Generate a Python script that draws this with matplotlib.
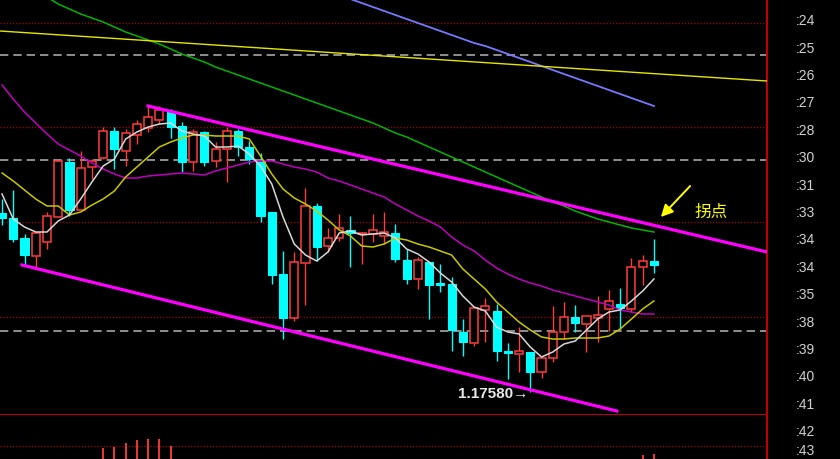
import numpy as np
import matplotlib.pyplot as plt
from matplotlib.patches import Rectangle

plt.rcParams['font.family'] = ['Liberation Sans', 'DejaVu Sans']

# candles (open, high, low, close)
opens = [1.17938, 1.17928, 1.17888, 1.17852, 1.17880, 1.17930, 1.18040, 1.17944, 1.18030, 1.18048,
         1.18102, 1.18062, 1.18094, 1.18108, 1.18124, 1.18142, 1.18112, 1.18040, 1.18100, 1.18042,
         1.18066, 1.18102, 1.18070, 1.18042, 1.17940, 1.17816, 1.17728, 1.17838, 1.17952, 1.17872,
         1.17888, 1.17904, 1.17896, 1.17896, 1.17892, 1.17898, 1.17844, 1.17806, 1.17840, 1.17798,
         1.17796, 1.17700, 1.17678, 1.17744, 1.17742, 1.17662, 1.17656, 1.17660, 1.17620, 1.17648,
         1.17700, 1.17730, 1.17716, 1.17728, 1.17746, 1.17756, 1.17746, 1.17830, 1.17842]
highs = [1.17966, 1.17984, 1.17896, 1.17898, 1.17940, 1.18042, 1.18048, 1.18062, 1.18046, 1.18110,
         1.18110, 1.18106, 1.18124, 1.18152, 1.18152, 1.18146, 1.18120, 1.18106, 1.18102, 1.18080,
         1.18110, 1.18106, 1.18082, 1.18058, 1.17940, 1.17862, 1.17860, 1.17988, 1.17958, 1.17908,
         1.17936, 1.17932, 1.17900, 1.17936, 1.17940, 1.17916, 1.17866, 1.17850, 1.17840, 1.17836,
         1.17810, 1.17726, 1.17750, 1.17768, 1.17756, 1.17678, 1.17710, 1.17660, 1.17652, 1.17752,
         1.17760, 1.17754, 1.17732, 1.17772, 1.17784, 1.17788, 1.17848, 1.17854, 1.17886]
lows = [1.17914, 1.17880, 1.17832, 1.17830, 1.17866, 1.17930, 1.17932, 1.17944, 1.18006, 1.18046,
        1.18026, 1.18032, 1.18076, 1.18100, 1.18116, 1.18088, 1.18020, 1.18022, 1.18032, 1.18030,
        1.18000, 1.18052, 1.18036, 1.17920, 1.17796, 1.17686, 1.17722, 1.17754, 1.17842, 1.17860,
        1.17882, 1.17830, 1.17836, 1.17880, 1.17876, 1.17840, 1.17796, 1.17786, 1.17726, 1.17780,
        1.17662, 1.17652, 1.17672, 1.17680, 1.17642, 1.17606, 1.17620, 1.17580, 1.17608, 1.17640,
        1.17686, 1.17700, 1.17660, 1.17680, 1.17702, 1.17706, 1.17740, 1.17794, 1.17818]
closes = [1.17928, 1.17886, 1.17854, 1.17898, 1.17932, 1.18042, 1.17944, 1.18028, 1.18042, 1.18102,
          1.18066, 1.18098, 1.18116, 1.18130, 1.18144, 1.18110, 1.18040, 1.18100, 1.18040, 1.18066,
          1.18102, 1.18070, 1.18046, 1.17932, 1.17814, 1.17728, 1.17840, 1.17952, 1.17870, 1.17888,
          1.17908, 1.17898, 1.17898, 1.17904, 1.17900, 1.17846, 1.17806, 1.17844, 1.17794, 1.17794,
          1.17704, 1.17680, 1.17748, 1.17752, 1.17662, 1.17658, 1.17662, 1.17620, 1.17648, 1.17700,
          1.17730, 1.17718, 1.17732, 1.17734, 1.17762, 1.17748, 1.17830, 1.17842, 1.17834]

# moving averages, one value per candle
ma_white = [1.17976, 1.17926, 1.17910, 1.17900, 1.17900, 1.17922, 1.17934, 1.17966, 1.18000, 1.18032,
            1.18046, 1.18086, 1.18100, 1.18110, 1.18116, 1.18118, 1.18102, 1.18096, 1.18092, 1.18070,
            1.18070, 1.18072, 1.18056, 1.18032, 1.17996, 1.17930, 1.17876, 1.17854, 1.17842, 1.17860,
            1.17898, 1.17902, 1.17894, 1.17896, 1.17898, 1.17888, 1.17866, 1.17856, 1.17840, 1.17818,
            1.17800, 1.17772, 1.17750, 1.17742, 1.17710, 1.17700, 1.17696, 1.17670, 1.17650, 1.17660,
            1.17676, 1.17682, 1.17704, 1.17726, 1.17740, 1.17744, 1.17762, 1.17782, 1.17806]
ma_olive = [1.18018, 1.18002, 1.17984, 1.17966, 1.17952, 1.17952, 1.17934, 1.17940, 1.17954, 1.17966,
            1.17982, 1.18010, 1.18030, 1.18050, 1.18070, 1.18080, 1.18088, 1.18094, 1.18094, 1.18092,
            1.18092, 1.18092, 1.18086, 1.18052, 1.18016, 1.17986, 1.17968, 1.17956, 1.17942, 1.17924,
            1.17904, 1.17892, 1.17872, 1.17870, 1.17876, 1.17888, 1.17884, 1.17876, 1.17870, 1.17862,
            1.17854, 1.17826, 1.17806, 1.17786, 1.17760, 1.17740, 1.17720, 1.17704, 1.17690, 1.17686,
            1.17686, 1.17688, 1.17688, 1.17688, 1.17692, 1.17706, 1.17726, 1.17746, 1.17762]
ma_purple = [1.18194, 1.18166, 1.18140, 1.18118, 1.18096, 1.18076, 1.18064, 1.18052, 1.18038, 1.18026,
             1.18016, 1.18008, 1.18008, 1.18012, 1.18014, 1.18016, 1.18018, 1.18016, 1.18014, 1.18022,
             1.18028, 1.18034, 1.18040, 1.18042, 1.18042, 1.18036, 1.18030, 1.18026, 1.18020, 1.18008,
             1.18002, 1.17994, 1.17986, 1.17978, 1.17970, 1.17956, 1.17944, 1.17932, 1.17922, 1.17910,
             1.17890, 1.17874, 1.17862, 1.17844, 1.17828, 1.17816, 1.17806, 1.17798, 1.17792, 1.17784,
             1.17778, 1.17772, 1.17766, 1.17760, 1.17754, 1.17744, 1.17740, 1.17736, 1.17736]
green_start = 4
ma_green = [1.18370, 1.18356, 1.18346, 1.18336, 1.18328, 1.18320, 1.18310, 1.18300, 1.18292, 1.18284,
            1.18276, 1.18266, 1.18256, 1.18248, 1.18240, 1.18230, 1.18222, 1.18214, 1.18206, 1.18198,
            1.18190, 1.18182, 1.18174, 1.18166, 1.18158, 1.18150, 1.18142, 1.18134, 1.18126, 1.18118,
            1.18108, 1.18098, 1.18090, 1.18080, 1.18070, 1.18060, 1.18050, 1.18040, 1.18030, 1.18020,
            1.18010, 1.18000, 1.17990, 1.17980, 1.17970, 1.17960, 1.17952, 1.17942, 1.17934, 1.17926,
            1.17920, 1.17914, 1.17908, 1.17904, 1.17900]
blue_start = 31
ma_blue = [1.18366, 1.18358, 1.18350, 1.18342, 1.18334, 1.18326, 1.18318, 1.18310, 1.18302, 1.18294,
           1.18286, 1.18278, 1.18272, 1.18264, 1.18256, 1.18248, 1.18240, 1.18232, 1.18224, 1.18216,
           1.18208, 1.18200, 1.18192, 1.18184, 1.18176, 1.18168, 1.18160, 1.18152]

# drawn lines (x in bars, price)
long_yellow = ([-0.18, 68.06], [1.18302, 1.18202])
chan_upper = ([12.99, 68.06], [1.18152, 1.17860])
chan_lower = ([1.78, 54.7], [1.17834, 1.17542])
red_levels = [1.18318, 1.18110, 1.17920, 1.17730]
gray_levels = [1.18254, 1.18044, 1.17702]

tick_prices = [1.18326, 1.18271, 1.18216, 1.18162, 1.18107, 1.18052, 1.17997, 1.17942,
               1.17888, 1.17833, 1.17778, 1.17723, 1.17668, 1.17614, 1.17559]
tick_labels = [':24', ':25', ':26', ':27', ':28', ':30', ':31', ':33',
               ':34', ':34', ':35', ':38', ':39', ':40', ':41']

# lower indicator panel
hist_x = [9, 10, 11, 12, 13, 14, 15, 57, 58]
hist_v = [11, 12, 16, 19, 20, 20, 13, 4, 5]
low_ticks = [29, 10]
low_labels = [':42', ':43']

RED = '#ff3c3c'
CYAN = '#00ffff'
AXRED = '#c00000'

fig = plt.figure(figsize=(8.4, 4.6), dpi=100, facecolor='black')
ax = fig.add_axes([0, 44 / 460, 767 / 840, 416 / 460])
ax2 = fig.add_axes([0, 0, 767 / 840, 44 / 460])
for a in (ax, ax2):
    a.set_facecolor('black')
    a.set_xlim(-0.18, 68.06)
    a.set_xticks([])
    a.yaxis.tick_right()
    a.tick_params(axis='y', length=0, pad=21, labelsize=10, labelcolor='#d0d0d0')
    a.spines['top'].set_visible(False)
    a.spines['left'].set_visible(False)
    a.spines['right'].set_color(AXRED)
    a.spines['right'].set_linewidth(1.5)
ax.spines['bottom'].set_color(AXRED)
ax.spines['bottom'].set_linewidth(1.5)
ax2.spines['bottom'].set_visible(False)

ax.set_ylim(1.17534, 1.18366)
ax.set_yticks(tick_prices)
ax.set_yticklabels(tick_labels)
ax2.set_ylim(0, 44)
ax2.set_yticks(low_ticks)
ax2.set_yticklabels(low_labels)

for lv in red_levels:
    ax.axhline(lv, color='#a80000', lw=0.9, ls=(0, (1, 1.5)), zorder=1)
for lv in gray_levels:
    ax.axhline(lv, color='#a8a8a8', lw=1.2, ls=(0, (5, 3)), zorder=1)

w = 0.72
for i in range(len(opens)):
    o, h, l, c = opens[i], highs[i], lows[i], closes[i]
    if c >= o:
        ax.vlines(i, l, o, color=RED, lw=1.0, zorder=2)
        ax.vlines(i, c, h, color=RED, lw=1.0, zorder=2)
        ax.add_patch(Rectangle((i - w / 2, o), w, c - o, facecolor='black',
                               edgecolor=RED, lw=1.1, zorder=3))
    else:
        ax.vlines(i, l, h, color=CYAN, lw=1.0, zorder=2)
        ax.add_patch(Rectangle((i - w / 2, c), w, o - c, facecolor=CYAN,
                               edgecolor=CYAN, lw=0.8, zorder=3))

x = np.arange(len(opens))
ax.plot(x, ma_purple, color='#c000c0', lw=1.1, zorder=4)
ax.plot(x, ma_olive, color='#c8c800', lw=1.1, zorder=4)
ax.plot(x, ma_white, color='#d8d8d8', lw=1.1, zorder=4)
ax.plot(x[green_start:], ma_green, color='#00b400', lw=1.1, zorder=4)
ax.plot(x[blue_start:], ma_blue, color='#7878ff', lw=1.3, zorder=4)
ax.plot(*long_yellow, color='#e6e600', lw=1.0, zorder=4)
ax.plot(*chan_upper, color='#ff00ff', lw=2.3, zorder=5)
ax.plot(*chan_lower, color='#ff00ff', lw=2.3, zorder=5)

ax.text(47 - 0.15, 1.17578, '1.17580\u2192', color='#e8e8e8', fontsize=11,
        fontweight='bold', ha='right', va='center', zorder=6)
ax.annotate('', xy=(58.45, 1.17926), xytext=(61.39, 1.17996),
            arrowprops=dict(arrowstyle='-|>', color='#ffff00', lw=1.4, mutation_scale=18))
ax.text(63.08, 1.17942, '拐点', color='#ffff00', fontsize=12,
        family=['Noto Sans CJK SC', 'DejaVu Sans'], ha='center', va='center')

ax2.axhline(13, color='#a80000', lw=0.9, ls=(0, (1, 1.5)))
ax2.vlines(hist_x, 0, hist_v, color=RED, lw=1.3)

plt.savefig('out.png', dpi=100, facecolor='black')
